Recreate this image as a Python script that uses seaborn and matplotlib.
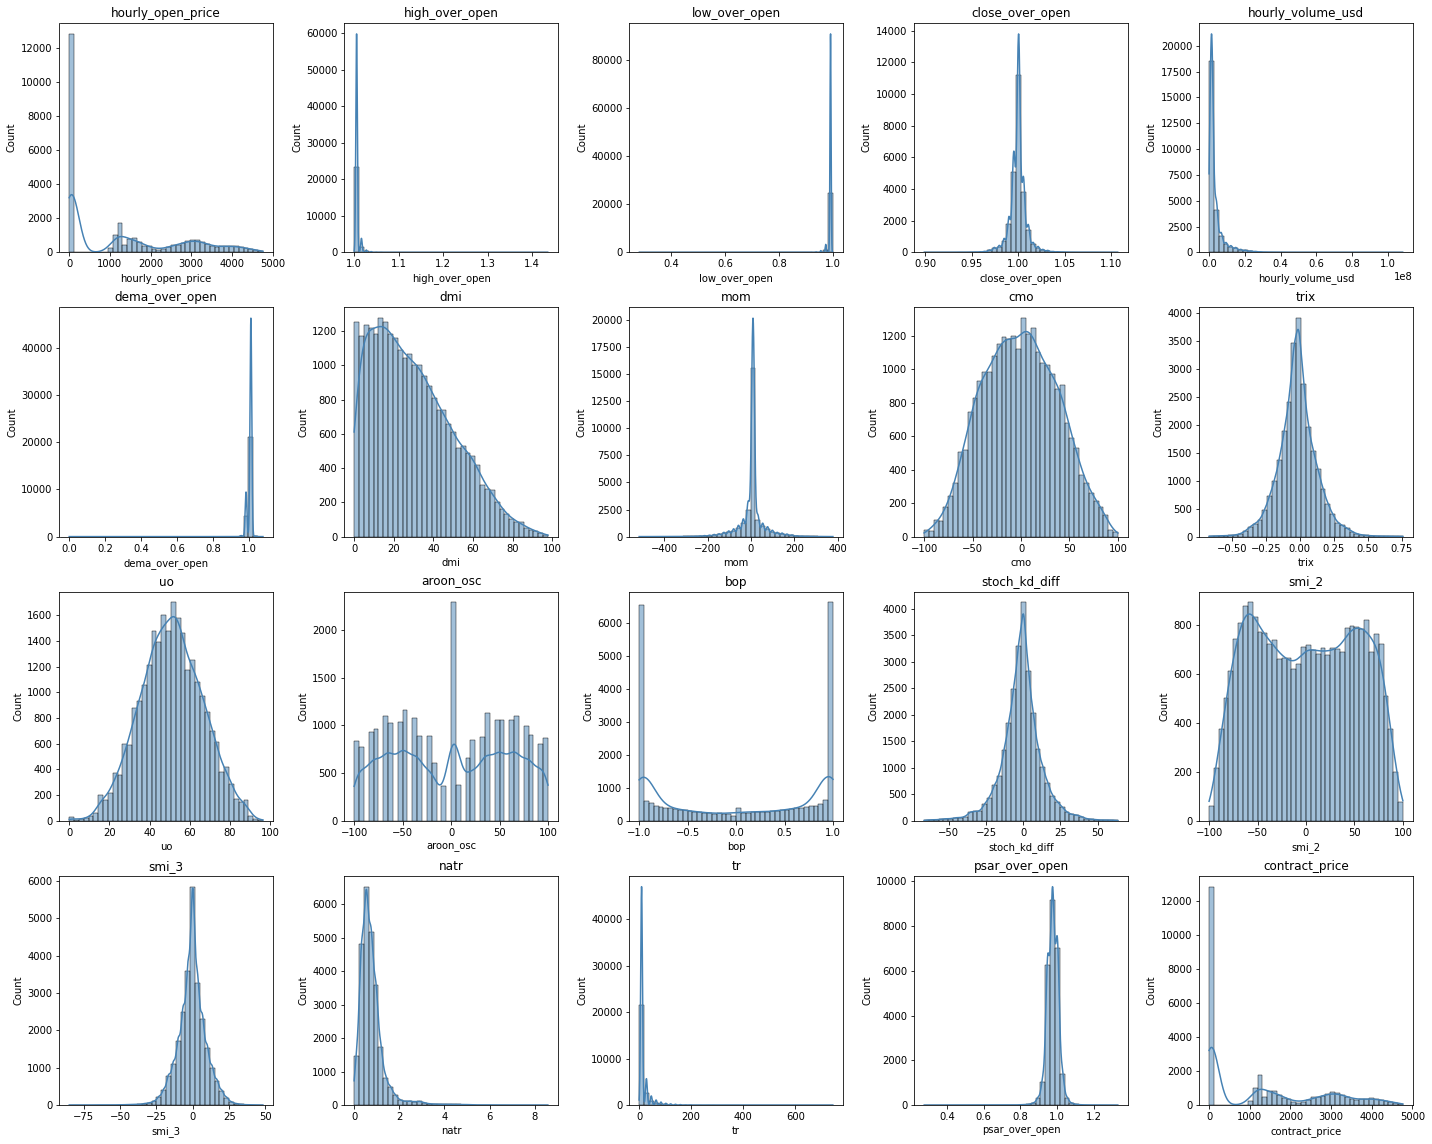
import numpy as np
import pandas as pd
import matplotlib
matplotlib.use("Agg")
import matplotlib.pyplot as plt
import seaborn as sns

# ---- data: per feature, histogram range (lo, hi) and 40 bin counts ----
hourly_open_price_range = (0.0, 4766.0)
hourly_open_price_counts = [12850, 0, 0, 0, 0, 0, 0, 0, 250, 1000, 1750, 450, 800, 850, 600, 400,
                            350, 200, 150, 200, 300, 450, 450, 550, 650, 750, 700, 600, 500, 350,
                            300, 350, 350, 400, 350, 300, 250, 200, 150, 80]

high_over_open_range = (1.0, 1.436)
high_over_open_counts = [23400, 1500, 250, 80, 30, 15, 8, 5, 3, 2] + [1] * 30

low_over_open_range = (0.282, 1.0)
low_over_open_counts = [1] * 30 + [2, 3, 4, 6, 10, 20, 60, 200, 900, 24800]

close_over_open_range = (0.8987, 1.1071)
close_over_open_counts = [5, 5, 5, 5, 5, 5, 8, 10, 10, 15, 20, 30, 50, 120, 250, 350, 700, 1800,
                          5100, 11200, 3800, 1400, 500, 300, 150, 100, 50, 30, 20, 15, 10, 8, 5,
                          5, 5, 3, 3, 3, 3, 3]

hourly_volume_usd_range = (0.0, 1.085e8)
hourly_volume_usd_counts = [18500, 4100, 1600, 800, 550, 400, 250, 180, 120, 80, 50, 30, 20, 15,
                            10, 8, 5, 5, 3, 3] + [2] * 20

dema_over_open_range = (0.0, 1.08)
dema_over_open_counts = [1] * 35 + [100, 4300, 21100, 50, 5]

dmi_range = (0.0, 97.9)
dmi_counts = [1250, 1170, 1235, 1215, 1180, 1275, 1250, 1180, 1160, 1090, 1040, 1065, 1000, 1000,
              940, 880, 810, 740, 740, 660, 610, 520, 530, 490, 470, 420, 300, 280, 270, 200,
              160, 130, 100, 85, 85, 50, 40, 35, 20, 10]

mom_range = (-515.0, 378.0)
mom_counts = [3, 3, 3, 3, 4, 5, 5, 6, 8, 10, 20, 30, 50, 70, 100, 150, 200, 300, 400, 550, 800,
              1250, 2450, 15600, 1500, 950, 700, 450, 300, 250, 180, 120, 60, 40, 30, 20, 10, 8,
              5, 5]

cmo_range = (-100.0, 100.0)
cmo_counts = [40, 35, 100, 95, 175, 245, 320, 505, 515, 745, 830, 930, 985, 985, 1080, 1150, 1190,
              1180, 1200, 1120, 1305, 1210, 1245, 1100, 1035, 1025, 970, 880, 905, 680, 590, 530,
              370, 320, 260, 215, 175, 130, 40, 30]

trix_range = (-0.667, 0.759)
trix_counts = [10, 10, 15, 15, 20, 30, 50, 100, 180, 230, 300, 480, 730, 1000, 1370, 1880, 2400,
               3450, 3900, 2720, 1950, 1530, 1200, 850, 590, 400, 250, 200, 150, 90, 50, 30, 20,
               15, 10, 10, 5, 10, 5, 5]

uo_range = (0.0, 96.4)
uo_counts = [30, 5, 15, 20, 35, 60, 200, 165, 220, 370, 355, 600, 590, 875, 935, 1055, 1210, 1475,
             1390, 1600, 1480, 1700, 1580, 1460, 1175, 1255, 1080, 975, 850, 700, 610, 380, 420,
             290, 170, 150, 160, 35, 15, 10]

aroon_osc_range = (-100.0, 100.0)
aroon_osc_counts = [840, 775, 0, 930, 965, 0, 1100, 1030, 0, 1040, 1165, 0, 1080, 890, 0, 890, 605,
                    0, 370, 0, 2290, 380, 0, 660, 850, 0, 880, 1135, 0, 1060, 1060, 0, 1060, 1100,
                    0, 995, 900, 0, 805, 870]

bop_range = (-1.0, 1.0)
bop_counts = [6530, 600, 540, 460, 420, 390, 390, 360, 330, 330, 300, 280, 260, 230, 240, 220, 230,
              220, 210, 150, 400, 250, 250, 280, 270, 260, 260, 290, 310, 320, 340, 370, 380, 390,
              420, 440, 460, 500, 640, 6620]

stoch_kd_diff_range = (-66.55, 63.6)
stoch_kd_diff_counts = [15, 20, 20, 30, 40, 40, 60, 60, 80, 170, 180, 180, 320, 440, 670, 850, 1330,
                        1850, 2480, 3300, 4120, 2830, 2030, 1360, 1020, 720, 470, 360, 260, 160,
                        120, 110, 80, 40, 30, 20, 15, 15, 15, 10]

smi_2_range = (-100.0, 100.0)
smi_2_counts = [60, 215, 375, 500, 610, 740, 805, 875, 890, 830, 770, 765, 720, 735, 660, 665, 665,
                620, 640, 710, 715, 695, 680, 705, 675, 705, 700, 690, 785, 795, 790, 780, 820,
                690, 760, 720, 510, 375, 200, 75]

smi_3_range = (-85.0, 48.3)
smi_3_counts = [3, 3, 3, 3, 3, 3, 5, 5, 5, 5, 8, 10, 12, 15, 20, 40, 60, 100, 220, 400, 780, 1100,
                1710, 2500, 3580, 5850, 3270, 2310, 1520, 1000, 650, 380, 200, 80, 40, 20, 10, 5,
                5, 3]

natr_range = (0.0, 8.59)
natr_counts = [1460, 4820, 6520, 5160, 3580, 1720, 820, 540, 300, 150, 110, 120, 100, 110, 70, 40,
               30, 25, 25, 25, 20, 20, 15, 15, 10, 5, 5, 5, 3, 3, 3, 3, 2, 2, 2, 2, 2, 2, 2, 2]

tr_range = (0.0, 745.0)
tr_counts = [21500, 2600, 900, 500, 300, 180, 120, 80, 50, 30, 20, 15, 10, 8, 6, 5, 4, 3, 3, 2]
tr_counts = tr_counts + [2] * 20

psar_over_open_range = (0.2758, 1.3303)
psar_over_open_counts = [2, 2, 2, 2, 2, 2, 2, 2, 2, 2, 2, 3, 3, 3, 3, 5, 5, 5, 8, 10, 15, 30, 80,
                         300, 1050, 6250, 9180, 7030, 1400, 300, 80, 30, 15, 8, 5, 3, 3, 2, 2, 2]

contract_price_range = (0.0, 4766.0)
contract_price_counts = [12850, 0, 0, 0, 0, 0, 0, 0, 250, 1000, 1750, 450, 800, 850, 600, 400,
                         350, 200, 150, 200, 300, 450, 450, 550, 650, 750, 700, 600, 500, 350,
                         300, 350, 350, 400, 350, 300, 250, 200, 150, 80]

features = [
    ("hourly_open_price", hourly_open_price_range, hourly_open_price_counts),
    ("high_over_open", high_over_open_range, high_over_open_counts),
    ("low_over_open", low_over_open_range, low_over_open_counts),
    ("close_over_open", close_over_open_range, close_over_open_counts),
    ("hourly_volume_usd", hourly_volume_usd_range, hourly_volume_usd_counts),
    ("dema_over_open", dema_over_open_range, dema_over_open_counts),
    ("dmi", dmi_range, dmi_counts),
    ("mom", mom_range, mom_counts),
    ("cmo", cmo_range, cmo_counts),
    ("trix", trix_range, trix_counts),
    ("uo", uo_range, uo_counts),
    ("aroon_osc", aroon_osc_range, aroon_osc_counts),
    ("bop", bop_range, bop_counts),
    ("stoch_kd_diff", stoch_kd_diff_range, stoch_kd_diff_counts),
    ("smi_2", smi_2_range, smi_2_counts),
    ("smi_3", smi_3_range, smi_3_counts),
    ("natr", natr_range, natr_counts),
    ("tr", tr_range, tr_counts),
    ("psar_over_open", psar_over_open_range, psar_over_open_counts),
    ("contract_price", contract_price_range, contract_price_counts),
]

# KDE bandwidth (style, data units) per panel
kde_bw = {
    "hourly_open_price": 180, "high_over_open": 0.0017, "low_over_open": 0.00195,
    "close_over_open": 0.0017, "hourly_volume_usd": 0.95e6, "dema_over_open": 0.0049,
    "dmi": 3.5, "mom": 6.9, "cmo": 6.0, "trix": 0.02, "uo": 2.6, "aroon_osc": 7.0,
    "bop": 0.12, "stoch_kd_diff": 1.7, "smi_2": 7.0, "smi_3": 1.45, "natr": 0.1,
    "tr": 3.4, "psar_over_open": 0.0105, "contract_price": 180,
}

NBINS = 40
COLOR = "steelblue"
DPI = 72

fig, axes = plt.subplots(4, 5, figsize=(1432 / DPI, 1144 / DPI), dpi=DPI)
for ax, (name, (lo, hi), counts) in zip(axes.flat, features):
    counts = np.asarray(counts, dtype=float)
    edges = np.linspace(lo, hi, NBINS + 1)
    centers = (edges[:-1] + edges[1:]) / 2
    xs = np.concatenate([[lo], centers, [hi]])
    ws = np.concatenate([[0.0], counts, [0.0]])
    df = pd.DataFrame({name: xs, "w": ws})
    sd = float(np.sqrt(np.cov(xs, aweights=ws)))
    sns.histplot(data=df, x=name, weights="w", bins=NBINS, binrange=(lo, hi), kde=True,
                 color=COLOR, ax=ax,
                 kde_kws={"bw_method": kde_bw[name] / sd, "gridsize": 3000})
    ax.set_title(name)
    ax.set_ylabel("Count")

fig.tight_layout(pad=0.7)
fig.savefig("out.png", dpi=DPI)
